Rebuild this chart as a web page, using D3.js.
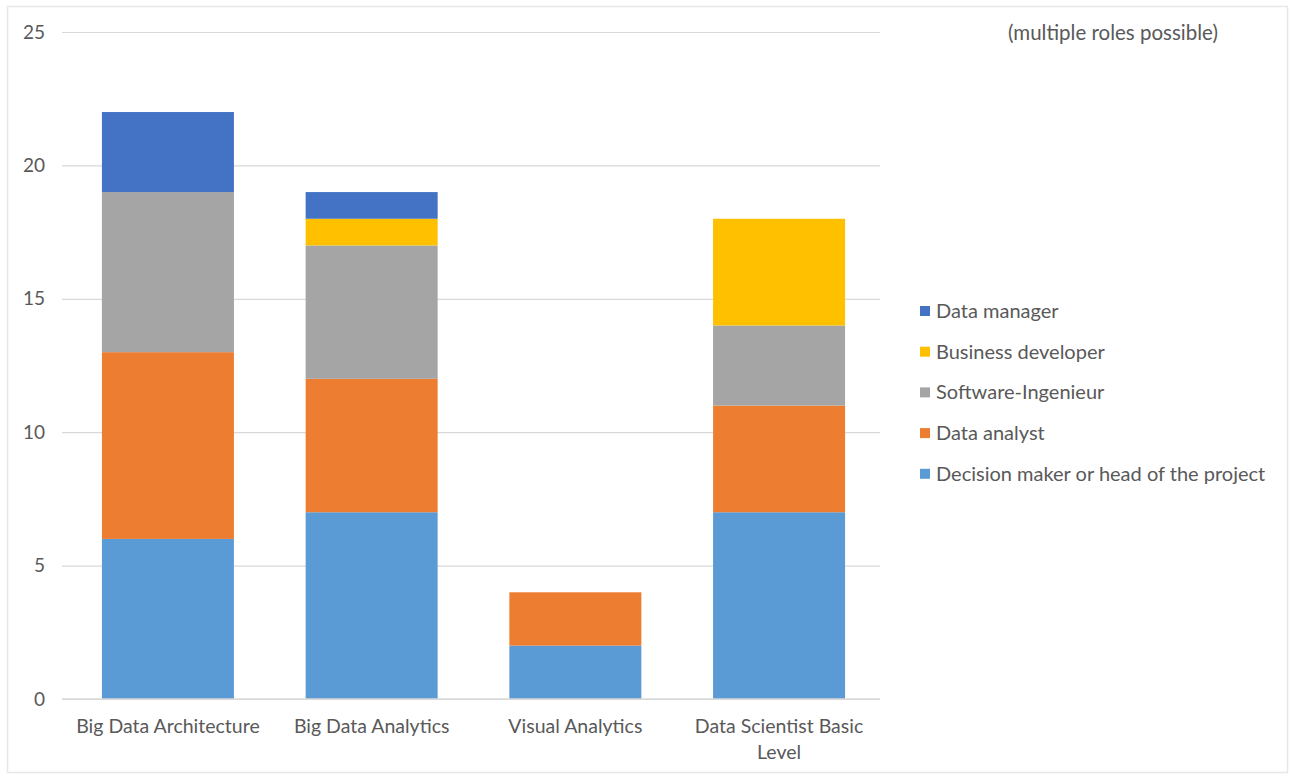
<!DOCTYPE html>
<html>
<head>
<meta charset="utf-8">
<script src="https://cdn.jsdelivr.net/npm/d3@7"></script>
<style>
  html, body { margin: 0; padding: 0; background: #fff; }
  svg { display: block; }
  text { font-family: Lato, "Open Sans", sans-serif; fill: #595959; }
</style>
</head>
<body>
<svg id="chart" width="1290" height="778"></svg>
<script>
// Training courses and the roles of participants (stacked counts)
const categories = ["Big Data Architecture", "Big Data Analytics", "Visual Analytics", "Data Scientist Basic Level"];
const categoryLines = [["Big Data Architecture"], ["Big Data Analytics"], ["Visual Analytics"], ["Data Scientist Basic", "Level"]];

const roles = ["Decision maker or head of the project", "Data analyst", "Software-Ingenieur", "Business developer", "Data manager"];
const decisionMaker   = [6, 7, 2, 7];
const dataAnalyst     = [7, 5, 2, 4];
const softwareEng     = [6, 5, 0, 3];
const businessDev     = [0, 1, 0, 4];
const dataManager     = [3, 1, 0, 0];
const roleColors = ["#5B9BD5", "#ED7D31", "#A5A5A5", "#FFC000", "#4472C4"];

const yTicks = [0, 5, 10, 15, 20, 25];
const note = "(multiple roles possible)";

const seriesValues = [decisionMaker, dataAnalyst, softwareEng, businessDev, dataManager];
const rows = categories.map((c, i) => {
  const r = { category: c };
  roles.forEach((role, k) => { r[role] = seriesValues[k][i]; });
  return r;
});

const svg = d3.select("#chart");

// outer frame
svg.append("rect")
  .attr("x", 7.5).attr("y", 6.5).attr("width", 1280).attr("height", 766)
  .attr("fill", "#fff").attr("stroke", "#e8e8e8").attr("stroke-width", 1.5);

const plot = { left: 62, right: 880, top: 32, bottom: 699 };

const x = d3.scaleBand()
  .domain(categories)
  .range([plot.left, 885])
  .paddingInner(0.352)
  .paddingOuter(0.196);

const y = d3.scaleLinear()
  .domain([0, 25])
  .range([plot.bottom, plot.top]);

// gridlines
const grid = svg.append("g")
  .attr("transform", `translate(${plot.left},0)`)
  .call(d3.axisLeft(y).tickValues(yTicks).tickSize(-(plot.right - plot.left)).tickFormat(""));
grid.select(".domain").remove();
grid.selectAll("line").attr("stroke", "#d9d9d9").attr("stroke-width", 1.2);

// y tick labels
const yAxis = svg.append("g")
  .attr("transform", `translate(${plot.left},0)`)
  .call(d3.axisLeft(y).tickValues(yTicks).tickSize(0).tickPadding(17));
yAxis.select(".domain").remove();
yAxis.selectAll("text")
  .style("font-family", "Lato, 'Open Sans', sans-serif")
  .style("font-size", "19px").attr("fill", "#595959");

// stacked bars
const stack = d3.stack().keys(roles);
const layers = stack(rows);

svg.append("g").selectAll("g")
  .data(layers)
  .join("g")
  .attr("fill", (d, i) => roleColors[i])
  .selectAll("rect")
  .data(d => d.filter(s => s[1] > s[0]))
  .join("rect")
  .attr("x", d => x(d.data.category))
  .attr("width", x.bandwidth())
  .attr("y", d => y(d[1]))
  .attr("height", d => y(d[0]) - y(d[1]));

// baseline
svg.append("line")
  .attr("x1", plot.left).attr("x2", plot.right)
  .attr("y1", y(0)).attr("y2", y(0))
  .attr("stroke", "#d9d9d9").attr("stroke-width", 1.5);

// category labels
const xLab = svg.append("g");
categories.forEach((c, i) => {
  const cx = x(c) + x.bandwidth() / 2;
  const t = xLab.append("text")
    .attr("x", cx)
    .attr("y", 733)
    .attr("text-anchor", "middle")
    .style("font-size", "19.5px");
  categoryLines[i].forEach((line, j) => {
    t.append("tspan")
      .attr("x", cx)
      .attr("dy", j === 0 ? 0 : 26)
      .text(line);
  });
});

// legend (top entry = last series)
const legend = svg.append("g").attr("transform", "translate(920,311)");
const legendOrder = roles.map((r, i) => i).reverse();
legendOrder.forEach((k, j) => {
  const g = legend.append("g").attr("transform", `translate(0,${j * 40.7})`);
  g.append("rect").attr("x", 0).attr("y", -5).attr("width", 10).attr("height", 10)
    .attr("fill", roleColors[k]);
  g.append("text").attr("x", 16).attr("y", 7)
    .style("font-size", "20px")
    .text(roles[k]);
});

// note
svg.append("text")
  .attr("x", 1008).attr("y", 40)
  .style("font-size", "20.5px")
  .text(note);
</script>
</body>
</html>
